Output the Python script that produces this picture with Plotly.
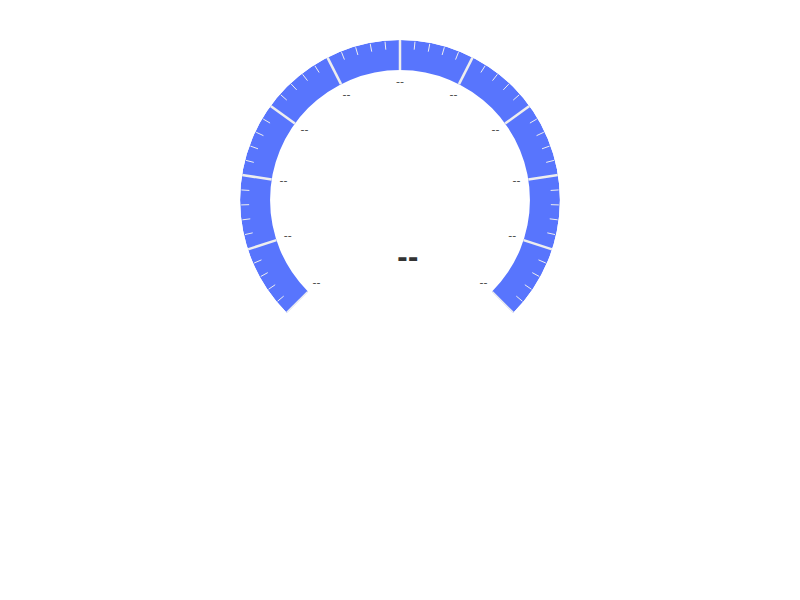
import plotly.graph_objects as go

# gauge scale (no value -> labels show "--")
gauge_min = 0
gauge_max = 100
split_values = [0, 10, 20, 30, 40, 50, 60, 70, 80, 90, 100]
split_labels = ["--"] * len(split_values)
minor_per_split = 5
detail_text = "--"

band_color = "#5875fd"
sweep = 270.0  # degrees, startAngle 225 -> endAngle -45
off = 8  # page body margin in px


def to_theta(v):
    return (v - gauge_min) / (gauge_max - gauge_min) * sweep


# split lines across the band
sp_r, sp_t = [], []
for v in split_values:
    t = to_theta(v)
    sp_r += [130, 160, None]
    sp_t += [t, t, None]

# minor ticks on the outer edge
tk_r, tk_t = [], []
step = (split_values[1] - split_values[0]) / minor_per_split
for i in range(len(split_values) - 1):
    for k in range(1, minor_per_split):
        t = to_theta(split_values[i] + k * step)
        tk_r += [151, 159, None]
        tk_t += [t, t, None]

fig = go.Figure()
fig.add_trace(go.Barpolar(
    r=[30], base=[130], theta=[sweep / 2], width=[sweep],
    marker=dict(color=band_color, line=dict(width=0)),
    hoverinfo="skip", showlegend=False))
fig.add_trace(go.Scatterpolar(
    r=sp_r, theta=sp_t, mode="lines",
    line=dict(color="#eeeeee", width=2.5),
    hoverinfo="skip", showlegend=False))
fig.add_trace(go.Scatterpolar(
    r=tk_r, theta=tk_t, mode="lines",
    line=dict(color="#eeeeee", width=1),
    hoverinfo="skip", showlegend=False))
fig.add_trace(go.Scatterpolar(
    r=[118] * len(split_values), theta=[to_theta(v) for v in split_values],
    mode="text", text=split_labels,
    textfont=dict(family="DejaVu Sans", size=11, color="#464646"),
    hoverinfo="skip", showlegend=False))

fig.add_annotation(x=0.5, y=1 - (258 - off) / 600, xref="paper", yref="paper",
                   text="<b>" + detail_text + "</b>", showarrow=False,
                   font=dict(family="DejaVu Sans", size=26, color="#333333"))

fig.update_layout(
    width=800, height=600,
    margin=dict(l=0, r=0, t=0, b=0),
    paper_bgcolor="white",
    polar=dict(
        domain=dict(x=[(240 - off) / 800, (560 - off) / 800],
                    y=[1 - (313 - off) / 600, 1 - (40 - off) / 600]),
        sector=[-45, 225],
        bgcolor="white",
        radialaxis=dict(range=[0, 160], visible=False),
        angularaxis=dict(rotation=225, direction="clockwise", thetaunit="degrees",
                         visible=False, showgrid=False),
        bargap=0,
    ),
)

fig.write_html("out.html")
